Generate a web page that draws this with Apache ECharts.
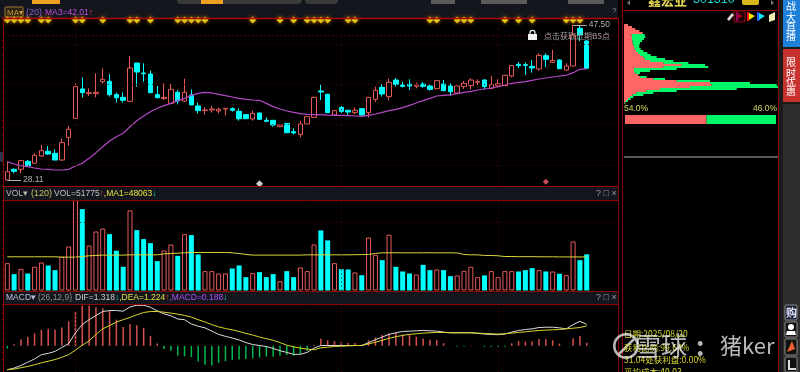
<!DOCTYPE html>
<html>
<head>
<meta charset="utf-8">
<style>html,body{margin:0;padding:0;background:#000;overflow:hidden}#main{width:800px;height:372px}</style>
<script src="https://cdn.jsdelivr.net/npm/echarts@6/dist/echarts.min.js"></script>
</head>
<body>
<div id="main"></div>
<script>
// [open, close, low, high]
var candles = [
  [28.11,29.15,28.11,30.41],[29.45,29.20,28.95,29.57],[29.45,30.53,28.95,30.61],[30.45,29.86,29.78,30.61],[30.20,31.20,30.20,31.45],
  [31.11,31.78,31.03,32.49],[31.70,31.36,31.24,32.37],[31.45,30.61,30.61,31.95],[30.61,32.78,30.53,33.32],[33.45,34.45,32.37,34.87],
  [35.83,39.79,35.78,40.21],[39.50,39.04,38.45,40.96],[38.91,39.04,38.62,39.58],[38.91,39.08,38.45,41.46],[40.41,40.71,40.21,42.08],
  [40.46,38.79,38.54,41.37],[38.79,38.41,37.79,39.04],[38.45,38.08,37.79,39.08],[37.95,42.12,37.91,43.62],[42.75,41.62,39.79,42.75],
  [41.50,41.41,40.41,42.71],[41.37,39.04,39.04,41.79],[38.79,38.41,38.33,39.87],[38.29,38.45,38.12,40.21],[37.70,39.45,37.62,40.12],
  [39.08,37.99,37.58,39.37],[37.99,39.08,37.87,40.79],[38.75,37.50,37.50,39.45],[37.37,36.79,36.45,37.79],[36.79,36.87,36.29,37.20],
  [36.87,36.99,36.54,37.37],[36.74,36.95,36.45,37.16],[36.99,37.08,36.20,37.08],[37.04,36.83,36.66,37.20],[36.70,35.78,35.53,37.08],
  [36.29,35.78,35.78,36.29],[35.74,36.45,35.53,36.79],[36.49,35.70,35.62,36.54],[35.58,35.45,35.45,35.95],[35.58,35.00,34.78,35.58],
  [34.78,35.00,34.78,35.00],[35.20,34.03,34.03,35.20],[34.16,34.00,33.82,34.58],[33.82,35.12,33.45,35.49],[35.12,36.04,35.12,36.04],
  [35.95,38.45,35.87,38.54],[39.25,39.12,38.12,40.12],[38.83,36.54,36.54,38.91],[36.24,36.79,36.12,36.87],[37.20,36.70,36.37,37.37],
  [36.83,36.62,36.16,36.87],[36.54,36.83,36.33,37.20],[37.04,36.24,36.20,37.08],[36.54,38.45,35.91,38.45],[38.20,39.33,37.87,39.79],
  [39.70,38.87,38.54,40.12],[38.54,40.33,38.04,40.79],[40.62,40.08,39.79,40.87],[40.00,39.83,39.70,40.41],[40.08,39.87,39.37,40.71],
  [39.83,40.00,39.58,40.29],[40.12,39.83,39.66,40.37],[39.87,39.45,39.29,40.04],[39.54,40.54,39.45,40.62],[40.12,39.29,39.29,40.62],
  [39.87,39.16,38.66,40.21],[39.00,39.87,38.95,39.87],[39.79,40.21,39.50,40.50],[39.91,40.62,39.45,40.83],[40.33,40.41,40.00,40.71],
  [40.62,39.79,39.45,40.71],[39.58,40.04,39.50,41.12],[39.91,40.16,39.70,40.71],[39.91,41.21,39.87,41.29],[41.12,42.42,40.96,42.50],
  [42.58,42.42,42.12,42.87],[42.54,42.46,41.25,42.79],[42.33,42.12,41.54,43.12],[42.00,43.71,41.79,43.96],[43.67,43.21,42.25,43.96],
  [42.83,43.08,42.79,44.38],[43.12,42.04,42.00,43.21],[41.87,42.37,41.79,42.71],[42.37,46.25,42.37,47.50],[47.09,46.25,45.50,47.50],
  [45.50,42.08,42.08,45.63]
];
var ma20 = [
  30.41,30.11,29.90,29.78,29.61,29.49,29.45,29.36,29.36,29.45,
  29.86,30.20,30.82,31.53,32.28,32.99,33.53,33.95,34.78,35.53,
  36.12,36.66,37.08,37.41,37.70,38.04,38.33,38.70,38.95,39.08,
  39.00,38.83,38.66,38.50,38.33,38.20,38.12,38.08,37.70,37.29,
  36.99,36.74,36.58,36.41,36.33,36.29,36.29,36.24,36.20,36.20,
  36.16,36.12,36.08,36.20,36.37,36.58,36.79,36.95,37.16,37.45,
  37.74,38.04,38.33,38.62,38.70,38.75,38.91,39.08,39.20,39.37,
  39.50,39.62,39.79,40.00,40.21,40.33,40.41,40.58,40.75,40.87,
  41.00,41.12,41.21,41.54,41.96,42.01
];
var volumes = [
  39100,23400,31000,24300,33900,40100,35800,29100,48200,63000,
  129300,116400,64400,84400,88700,80600,56800,33900,114500,86300,
  73500,67700,42000,57200,65800,49600,80600,79200,51500,27700,
  27700,24300,24300,31500,35800,19100,24800,26200,19100,23400,
  13400,27700,19100,32900,27700,65800,85900,71600,39100,30500,
  30100,25800,21900,75800,51000,43400,79700,33900,27200,24300,
  22900,36700,29100,30100,29100,20500,21500,28100,33900,19100,
  21500,27700,19100,27700,27700,27200,29100,32000,29100,27200,
  27200,23900,21900,70100,43400,51775
];
var volMa = [
  48200,48200,48200,48200,48200,48200,48200,48200,47700,47700,
  47700,48600,49600,50100,50600,50600,50600,50600,51000,51000,
  51000,51000,51000,52400,52900,53400,53900,54400,54400,54400,
  54400,54400,54400,53900,52900,51500,50600,50600,50600,50600,
  50600,50600,50600,50600,51000,51000,51000,51000,51000,51000,
  51000,51200,51300,51500,53000,53900,53900,53900,53900,53900,
  53900,53900,53900,53900,53900,53900,53700,51500,51000,51000,
  50100,50100,49600,48600,48600,48400,48400,48400,48200,48200,
  48200,48000,48000,48000,48000,48063
];
var dif = [
  -1.46,-1.36,-1.20,-1.00,-0.80,-0.54,-0.46,-0.34,-0.10,0.14,
  0.80,1.30,1.60,1.86,2.10,2.16,2.16,2.12,2.38,2.48,
  2.48,2.36,2.14,1.96,1.84,1.64,1.60,1.34,1.20,1.10,
  0.90,0.70,0.58,0.48,0.36,0.20,0.08,0.02,-0.04,-0.16,
  -0.30,-0.40,-0.52,-0.52,-0.40,-0.14,0.02,0.02,0.02,0.02,
  0.02,0.02,0.02,0.20,0.38,0.54,0.70,0.80,0.88,0.90,
  0.92,0.94,0.92,0.90,0.84,0.80,0.80,0.80,0.80,0.76,
  0.72,0.70,0.68,0.72,0.84,0.94,1.00,1.04,1.12,1.14,
  1.14,1.10,1.04,1.30,1.50,1.318
];
var dea = [
  -1.46,-1.42,-1.34,-1.26,-1.16,-1.04,-0.94,-0.84,-0.70,-0.54,
  -0.26,0.04,0.30,0.70,1.04,1.24,1.46,1.60,1.74,1.90,
  2.04,2.10,2.10,2.06,2.00,1.94,1.86,1.76,1.60,1.46,
  1.30,1.16,1.06,0.98,0.88,0.76,0.66,0.54,0.44,0.34,
  0.20,0.04,-0.06,-0.14,-0.20,-0.24,-0.12,-0.08,-0.04,-0.02,
  0,0.02,0.02,0.12,0.22,0.34,0.46,0.56,0.64,0.70,
  0.74,0.78,0.80,0.82,0.82,0.80,0.80,0.80,0.80,0.78,
  0.76,0.74,0.72,0.74,0.78,0.82,0.86,0.90,0.94,0.96,
  0.98,1.00,1.04,1.08,1.12,1.224
];
var macd = [
  -0.16,0.10,0.40,0.56,0.76,0.98,1.04,0.98,1.12,1.50,
  2.06,2.46,2.46,2.36,2.30,2.14,1.60,1.16,1.34,1.26,
  1.10,0.60,0.14,-0.20,-0.30,-0.60,-0.64,-0.68,-0.96,-1.16,
  -1.20,-1.04,-0.94,-0.86,-0.84,-0.80,-0.76,-0.72,-0.66,-0.66,
  -0.60,-0.56,-0.60,-0.50,-0.30,0.06,0.44,0.34,0.28,0.24,
  0.18,0.18,0.06,0.34,0.50,0.66,0.76,0.80,0.70,0.66,
  0.56,0.44,0.38,0.34,0.16,0,-0.04,-0.04,0.02,0,
  -0.06,-0.06,-0.06,-0.06,0.16,0.30,0.26,0.26,0.42,0.40,
  0.34,0.14,0,0.46,0.60,0.188
];
// top row signal days and the two bottom marks
var signalDays = [0,1,2,3,5,6,10,11,14,18,19,21,25,26,27,28,29,36,40,42,44,45,46,47,50,51,62,63,66,67,68,73,75,77,82,83,84];
var whiteDays = [37];
var pinkDays = [79];
// chip distribution rows, top to bottom
var chipRed = [12,24,34,46,56,23,24,24,25,26,28,30,32,36,42,48,58,62,78,118,173,118,30,30,34,42,48,88,158,258,263,198,108,68,38,26,18,12,6,2];
var chipGreen = [0,0,0,0,0,39,40,36,29,22,18,16,18,22,28,32,40,61,70,75,70,135,128,48,14,1,20,35,100,120,195,265,230,90,50,32,10,8,6,2];
var chipShare = [54.0, 46.0];
var priceLines = [46.25,45.08,40.08,35.04,29.99];
var dayLines = [10,49,72];

var RED = '#e65a5a', CYAN = '#00ffff', FRAME = '#8c0606', GRIDC = '#520404';
var DOTS = [1, 3];
var FONT = '"Liberation Sans", Arial, sans-serif', CJK = '"Noto Sans CJK SC", sans-serif';
var categories = [];
for (var i = 0; i < candles.length + 4; i++) categories.push('d' + i);  // 后面留4根空位

var myChart = echarts.init(document.getElementById('main'));

function vLines(extra) {
  var d = dayLines.map(function (v) { return { xAxis: v }; });
  return {
    silent: true, symbol: 'none', animation: false, label: { show: false },
    lineStyle: { color: GRIDC, type: DOTS, width: 1 },
    data: d.concat(extra || [])
  };
}
function hLine(v, color) {
  return { yAxis: v, lineStyle: { color: color || GRIDC, type: DOTS, width: 1 } };
}
function tag(i0, i1, p) {
  return [{ coord: [i0, p], value: p, lineStyle: { color: '#b0b0b0', type: 'solid', width: 1 },
    label: { show: true, position: 'end', formatter: p.toFixed(2), color: '#b0b0b0', fontSize: 8.5, fontFamily: FONT, distance: 2 } },
    { coord: [i1, p] }];
}
function marks(list, p) { return list.map(function (d) { return [d, p]; }); }
function line(x1, y1, x2, y2, color, w) {
  return { type: 'line', shape: { x1: x1, y1: y1, x2: x2, y2: y2 }, style: { stroke: color || FRAME, lineWidth: w || 1 }, z: 20, silent: true };
}
function rect(x, y, w, h, fill, r, stroke) {
  return { type: 'rect', shape: { x: x, y: y, width: w, height: h, r: r || 0 }, style: { fill: fill, stroke: stroke || null }, z: 1, silent: true };
}
function text(x, y, s, color, size, fam, extra) {
  var st = { x: x, y: y, text: s, fill: color, fontSize: size, fontFamily: fam || FONT, verticalAlign: 'middle', align: 'left' };
  for (var k in extra) st[k] = extra[k];
  return { type: 'text', style: st, z: 30, silent: true };
}
function poly(points, fill) {
  return { type: 'polygon', shape: { points: points }, style: { fill: fill }, z: 25, silent: true };
}
function legendRich(x, y, s, rich) {
  return { type: 'text', z: 30, silent: true, style: { x: x, y: y, text: s, rich: rich, verticalAlign: 'middle', fontSize: 8.5, fontFamily: FONT } };
}
function rs(c) { return { fill: c, fontSize: 8.5, fontFamily: FONT }; }

var last = candles.length - 1;
var graphics = [
  rect(0, 0, 618, 18, '#14161e'),
  rect(177, -6, 125, 10, '#3b3b3b', 4), rect(305, -6, 33, 10, '#3b3b3b', 4),
  rect(32, -4, 28, 8, '#f0a020'), rect(201, -4, 22, 8, '#f0a020'),
  rect(431, -4, 24, 8, '#5a5a5a'), rect(481, -4, 46, 8, '#5a5a5a'), rect(568, -4, 36, 8, '#5a5a5a'),
  rect(3, 187, 615, 13, '#14161e'), rect(3, 292, 615, 12, '#14161e'),
  rect(0, 152, 3, 10, '#2c3448'),
  // 右侧竖条
  rect(778, 0, 22, 372, '#1b1b1b'), rect(783, 0, 17, 47, '#1f80d8'), rect(783, 49, 17, 53, '#c8322e'), rect(783, 104, 17, 268, '#2e2e2e'),
  rect(785, 305, 12, 15, '#1a2030', 1, '#888'), rect(785, 322, 12, 15, '#111', 1, '#888'),
  rect(785, 339, 12, 16, '#111', 1, '#888'), rect(785, 357, 12, 15, '#111', 1, '#888'),
  // 边框
  line(3.5, 18, 3.5, 372), line(618.5, 18, 618.5, 372), line(622.5, 0, 622.5, 372), line(778.5, 0, 778.5, 372),
  line(622, 10.5, 778, 10.5), line(3, 18.5, 618, 18.5, '#b00808', 1.5), line(3, 186.5, 618, 186.5, '#a00808', 1),
  line(3, 200.5, 618, 200.5), line(3, 291.5, 618, 291.5), line(3, 304.5, 618, 304.5),
  line(624, 157, 778, 157, '#b0b0b0', 1),
  // 指标标题
  rect(5, 7, 18, 10, '#2a2212', 1, '#a07830'),
  text(7, 12.5, 'MA\u25BE', '#c89840', 8),
  text(26, 12.5, '(20)', '#8a62d0', 9),
  legendRich(45, 12.5, '{b|MA3=42.01}{c|\u2191}', { b: rs('#c050e0'), c: rs('#e04040') }),
  text(6, 193.5, 'VOL\u25BE', '#b8b8b8', 8.5),
  text(31, 193.5, '(120)', '#c8c060', 9),
  legendRich(54, 193.5, '{w|VOL=51775}{r|\u2191}{y|,MA1=48063}{c|\u2193}',
    { w: rs('#c0c0c0'), r: rs('#e04040'), y: rs('#e8e040'), c: rs('#00e0e0') }),
  text(6, 298, 'MACD\u25BE', '#b8c4dc', 8.5),
  text(38, 298, '(26,12,9)', '#909090', 8.5),
  legendRich(75, 298, '{w|DIF=1.318}{c|\u2193}{y|,DEA=1.224}{r|\u2191}{p|,MACD=0.188}{c|\u2193}',
    { w: rs('#d0d0d0'), y: rs('#e8e040'), r: rs('#e04040'), p: rs('#b050ff'), c: rs('#00e0e0') }),
  text(596, 193.5, '? \u25A1 \u00D7', '#9a9a9a', 9), text(596, 298, '? \u25A1 \u00D7', '#9a9a9a', 9),
  text(612, 11, '?', '#8a8a8a', 8),
  // 锁和提示
  { type: 'ring', shape: { cx: 532.5, cy: 33, r: 3.2, r0: 2 }, style: { fill: '#e8e8e8' }, z: 25, silent: true },
  { type: 'rect', shape: { x: 528, y: 34, width: 9, height: 6 }, style: { fill: '#f0f0f0' }, z: 25, silent: true },
  text(544, 35.5, '点击获取近期BS点', '#a0a0a0', 8, CJK),
  // 右上标题
  text(648, 0, '鑫宏业', '#e8d850', 13, CJK, { fontWeight: 'bold' }),
  text(693, 0, '301310', '#18d8d8', 12.5),
  rect(742, -4, 17, 9, '#d8b818', 2),
  poly([[630, 0], [627, 3], [630, 5]], '#777'), poly([[771, 0], [774, 3], [771, 5]], '#777'),
  // 工具小图标
  poly([[727, 19], [732, 13], [734, 15], [729, 21]], '#e0d4d4'),
  rect(734, 11, 11, 11, '#1a0008', 0, '#a00010'),
  poly([[736, 12], [738, 12], [738, 21], [736, 21]], '#900060'), poly([[738, 13], [743, 16], [738, 19]], '#a00020'),
  poly([[747, 12], [749, 12], [749, 21], [747, 21]], '#ff1010'), poly([[749, 13], [755, 16], [749, 20]], '#f8e800'),
  poly([[757, 12], [759, 12], [759, 21], [757, 21]], '#2060ff'), poly([[759, 13], [765, 16], [759, 20]], '#10e0f0'),
  poly([[769, 15], [775, 12], [775, 20], [769, 22]], '#f0ecb0'),
  // 筹码比例
  text(624, 108.5, chipShare[0].toFixed(1) + '%', '#d8d860', 8.5),
  text(777, 108.5, chipShare[1].toFixed(1) + '%', '#d8d860', 8.5, FONT, { align: 'right' }),
  // 筹码文字
  text(624, 334, '日期:2025/08/20', '#d8d830', 8.5, CJK),
  text(624, 347.5, '获利比例:99.64%', '#d8d830', 8.5, CJK),
  text(624, 360, '31.04处获利盘:0.00%', '#d8d830', 8.5, CJK),
  text(624, 372, '平均成本:40.03', '#d8d830', 8.5, CJK),
  // 侧栏文字
  text(786, 6, '战', '#fff', 10, CJK), text(786, 17, '大', '#fff', 10, CJK), text(786, 26, '直', '#fff', 10, CJK), text(786, 36, '播', '#fff', 10, CJK),
  text(786, 62, '限', '#fff', 10, CJK), text(786, 73, '时', '#fff', 10, CJK), text(786, 82, '优', '#fff', 10, CJK), text(786, 91, '惠', '#fff', 10, CJK),
  text(786, 313, '购', '#dfe6ff', 11, CJK, { fontWeight: 'bold' }),
  { type: 'circle', shape: { cx: 791, cy: 327, r: 3 }, style: { fill: '#fff' }, z: 25, silent: true },
  poly([[786, 335], [787, 331], [795, 331], [796, 335]], '#fff'),
  poly([[787, 352], [792, 341], [795, 349]], '#f06030'),
  poly([[788, 360], [790, 360], [790, 368], [796, 368], [796, 370], [788, 370]], '#ddd'),
  // 水印
  { type: 'ring', shape: { cx: 626, cy: 346, r: 13, r0: 10.5 }, style: { fill: 'rgba(255,255,255,0.72)' }, z: 40, silent: true },
  line(619, 354, 634, 339, 'rgba(255,255,255,0.72)', 2.5),
  text(635, 346, '雪球', 'rgba(255,255,255,0.72)', 26, CJK),
  text(696, 346, ':', 'rgba(255,255,255,0.72)', 26, CJK, { fontWeight: 'bold' }),
  text(720, 346, '猪ker', 'rgba(255,255,255,0.72)', 22, CJK)
];

var option = {
  animation: false,
  backgroundColor: '#000',
  graphic: { elements: graphics },
  grid: [
    { left: 3.9, width: 613.5, top: 18, height: 168 },
    { left: 3.9, width: 613.5, top: 200, height: 90.5 },
    { left: 3.9, width: 613.5, top: 304, height: 69.3 },
    { left: 624, width: 154, top: 24, height: 80 },
    { left: 625, width: 151, top: 115, height: 9 }
  ],
  xAxis: [
    { gridIndex: 0, type: 'category', data: categories, show: false },
    { gridIndex: 1, type: 'category', data: categories, show: false },
    { gridIndex: 2, type: 'category', data: categories, show: false },
    { gridIndex: 3, type: 'value', min: 0, max: 462, show: false },
    { gridIndex: 4, type: 'value', min: 0, max: 100, show: false }
  ],
  yAxis: [
    { gridIndex: 0, type: 'value', min: 27.36, max: 48.38, interval: 0.912, splitLine: { show: false }, axisLabel: { show: false },
      axisLine: { show: false, onZero: false }, axisTick: { show: true, length: 2, lineStyle: { color: FRAME } } },
    { gridIndex: 1, type: 'value', min: 0, max: 129400, interval: 10000, splitLine: { show: false }, axisLabel: { show: false },
      axisLine: { show: false, onZero: false }, axisTick: { show: true, length: 2, lineStyle: { color: FRAME } } },
    { gridIndex: 2, type: 'value', min: -1.6, max: 2.56, interval: 0.4, splitLine: { show: false }, axisLabel: { show: false },
      axisLine: { show: false, onZero: false }, axisTick: { show: true, length: 2, lineStyle: { color: FRAME } } },
    { gridIndex: 3, type: 'category', inverse: true, show: false, data: chipRed.map(function (v, i) { return i; }) },
    { gridIndex: 4, type: 'category', show: false, data: ['chips'] }
  ],
  series: [
    {
      type: 'candlestick', xAxisIndex: 0, yAxisIndex: 0, data: candles, barWidth: 5,
      itemStyle: { color: '#000', color0: CYAN, borderColor: RED, borderColor0: CYAN, borderWidth: 1 },
      markLine: (function () {
        var m = vLines(priceLines.map(function (p, i) { return hLine(p, i === 0 ? '#8a0808' : GRIDC); }));
        m.data = m.data.concat([tag(0, 2, candles[0][2]), tag(last - 2, last, candles[last - 2][3])]);
        return m;
      })()
    },
    { type: 'line', xAxisIndex: 0, yAxisIndex: 0, data: ma20, symbol: 'none', lineStyle: { color: '#b648c8', width: 1.2 }, z: 4 },
    { type: 'scatter', xAxisIndex: 0, yAxisIndex: 0, data: marks(signalDays, 48.13), symbol: 'diamond', symbolSize: 7,
      itemStyle: { color: '#ffe818', shadowColor: '#ff9000', shadowBlur: 4 }, z: 6 },
    { type: 'scatter', xAxisIndex: 0, yAxisIndex: 0, data: marks(whiteDays, 27.65), symbol: 'diamond', symbolSize: 7, itemStyle: { color: '#fff' }, z: 6 },
    { type: 'scatter', xAxisIndex: 0, yAxisIndex: 0, data: marks(pinkDays, 27.9), symbol: 'diamond', symbolSize: 6, itemStyle: { color: '#ff6470' }, z: 6 },
    {
      type: 'bar', xAxisIndex: 1, yAxisIndex: 1, barWidth: 5,
      data: volumes.map(function (v, i) {
        var up = candles[i][1] >= candles[i][0];
        return { value: v, itemStyle: up ? { color: '#000', borderColor: RED, borderWidth: 1 } : { color: CYAN } };
      })
    },
    { type: 'line', xAxisIndex: 1, yAxisIndex: 1, data: volMa, symbol: 'none', lineStyle: { color: '#d8d83c', width: 1 }, z: 4,
      markLine: vLines([hLine(98300)]) },
    {
      type: 'bar', xAxisIndex: 2, yAxisIndex: 2, barWidth: 1.5,
      data: macd.map(function (v) { return { value: v, itemStyle: { color: v >= 0 ? '#d85050' : '#00b84c' } }; }),
      markLine: vLines()
    },
    { type: 'line', xAxisIndex: 2, yAxisIndex: 2, data: dif, symbol: 'none', lineStyle: { color: '#dcdcdc', width: 1 }, z: 4 },
    { type: 'line', xAxisIndex: 2, yAxisIndex: 2, data: dea, symbol: 'none', lineStyle: { color: '#d8d82c', width: 1 }, z: 5 },
    { type: 'bar', xAxisIndex: 3, yAxisIndex: 3, stack: 'chip', data: chipRed, barWidth: '100%', itemStyle: { color: '#ff6666' } },
    { type: 'bar', xAxisIndex: 3, yAxisIndex: 3, stack: 'chip', data: chipGreen, barWidth: '100%', itemStyle: { color: '#00f868' } },
    { type: 'bar', xAxisIndex: 4, yAxisIndex: 4, stack: 'share', data: [chipShare[0]], barWidth: '100%', itemStyle: { color: '#ff6464' } },
    { type: 'bar', xAxisIndex: 4, yAxisIndex: 4, stack: 'share', data: [chipShare[1]], barWidth: '100%', itemStyle: { color: '#00f868' } }
  ]
};
myChart.setOption(option);
</script>
</body>
</html>
